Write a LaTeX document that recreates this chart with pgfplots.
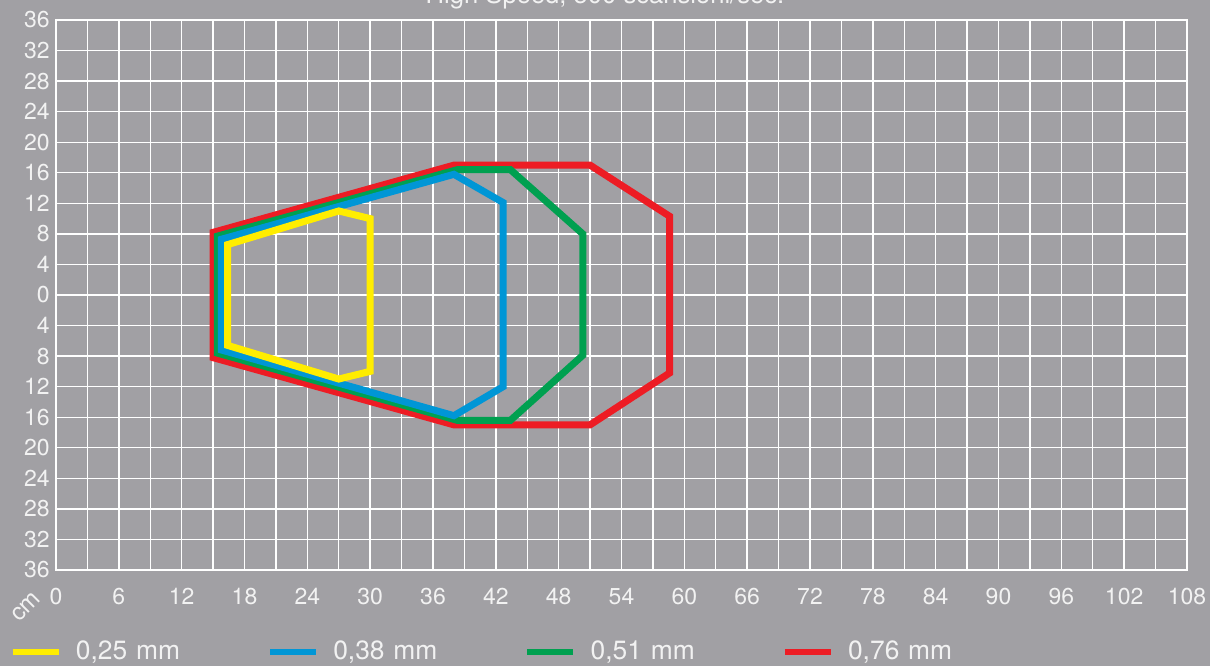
\documentclass[border=0pt]{standalone}
\usepackage{pgfplots}
\pgfplotsset{compat=1.18}
\usepackage{fontspec}
\setmainfont{TeX Gyre Heros}
\definecolor{bg}{RGB}{161,160,164}
\definecolor{txt}{RGB}{242,242,242}
\definecolor{cy}{RGB}{255,237,0}
\definecolor{cb}{RGB}{0,150,214}
\definecolor{cg}{RGB}{0,160,80}
\definecolor{cr}{RGB}{237,28,36}
\begin{document}
\begin{tikzpicture}
\fill[bg] (0,0) rectangle (605pt,333pt);
\path[use as bounding box] (0,0) rectangle (605pt,333pt);
\begin{axis}[
  at={(28pt,48pt)}, anchor=south west, scale only axis,
  width=565.5pt, height=275pt,
  xmin=0, xmax=108, ymin=-36, ymax=36,
  xtick={0,6,...,108}, minor xtick={3,9,...,105},
  ytick={-36,-32,...,36},
  yticklabels={36,32,28,24,20,16,12,8,4,0,4,8,12,16,20,24,28,32,36},
  grid=both,
  major grid style={white, line width=0.7pt},
  minor grid style={white, line width=0.7pt},
  major tick length=0pt, minor tick length=0pt,
  axis line style={white, line width=0.7pt},
  /pgf/number format/assume math mode=true,
  ticklabel style={font=\fontsize{11.5}{13}\selectfont, text=txt},
  xticklabel style={anchor=north, inner sep=0pt, yshift=-9pt},
  yticklabel style={anchor=east, inner sep=0pt, xshift=-3pt},
  legend columns=4, reverse legend,
  legend style={draw=none, fill=none, at={(-0.0415,-0.149)}, anchor=west,
    inner sep=0pt, font=\fontsize{13.2}{15}\selectfont, text=txt,
    nodes={text width=75pt, inner sep=0pt},
    /tikz/every odd column/.append style={column sep=7pt},
    /tikz/every even column/.append style={column sep=20.5pt}},
  legend image code/.code={\draw[#1, line width=3.2pt, line cap=butt] (0pt,0pt) -- (23pt,0pt);},
  every axis plot/.append style={line width=3.5pt, line join=miter, no markers},
]
\addplot[cr] coordinates {(15,8.2) (38,17) (51,17) (58.6,10.3) (58.6,-10.2) (51,-17) (38,-17) (15,-8.2)} -- cycle;
\addlegendentry{0,76 mm}
\addplot[cg] coordinates {(15.4,7.7) (38.3,16.4) (43.4,16.4) (50.3,8) (50.3,-7.9) (43.4,-16.4) (38.3,-16.4) (15.4,-7.6)} -- cycle;
\addlegendentry{0,51 mm}
\addplot[cb] coordinates {(15.8,7.3) (38,15.8) (42.7,12.1) (42.7,-12) (38,-15.8) (15.8,-7.2)} -- cycle;
\addlegendentry{0,38 mm}
\addplot[cy] coordinates {(16.4,6.6) (27,11) (30,10) (30,-10) (27,-11) (16.4,-6.6)} -- cycle;
\addlegendentry{0,25 mm}
\end{axis}
\node[anchor=base, font=\fontsize{12.8}{15}\selectfont, text=txt] at (302.5pt,331pt) {High Speed, 500 scansioni/sec.};
\node[rotate=45, font=\fontsize{12}{14}\selectfont, text=txt] at (13pt,29.5pt) {cm};
\end{tikzpicture}
\end{document}
